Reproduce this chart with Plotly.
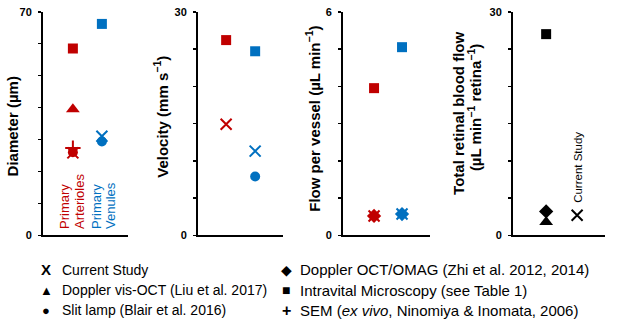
import plotly.graph_objects as go

W, H = 617, 328
FONT = "Liberation Sans, Arial, sans-serif"
RED = "#C00000"
BLUE = "#0070C0"
BLACK = "#000000"

# ---- data ----
methods = ["Current Study", "Doppler vis-OCT", "Slit lamp", "Doppler OCT/OMAG",
           "Intravital Microscopy", "SEM"]
symbols = ["x-thin-open", "triangle-up", "circle", "diamond", "square", "cross-thin-open"]
vessel_pos = [1, 2]  # Primary Arterioles, Primary Venules

diameter_arterioles = [25.8, 39.5, 26.0, None, 58.5, 27.3]
diameter_venules = [31.0, None, 29.4, None, 66.2, None]
velocity_arterioles = [14.9, None, None, None, 26.2, None]
velocity_venules = [11.3, None, 7.9, None, 24.7, None]
flow_arterioles = [0.52, None, None, 0.52, 3.95, None]
flow_venules = [0.57, None, None, 0.57, 5.05, None]
total_flow = [2.7, 1.8, None, 3.2, 27.0, None]
total_flow_pos = [2, 1, 1, 1, 1, 1]

legend_left = ["Current Study", "Doppler vis-OCT (Liu et al. 2017)", "Slit lamp (Blair et al. 2016)"]
legend_right = ["Doppler OCT/OMAG (Zhi et al. 2012, 2014)", "Intravital Microscopy (see Table 1)",
                "SEM (<i>ex vivo</i>, Ninomiya &amp; Inomata, 2006)"]

def px(x):
    return x / W

def py(y):
    return 1 - y / H

TOP, BOT = 6, 238
ydom = [py(BOT), py(TOP)]
panels = [
    dict(x0=43, x1=128, xr=[-0.03, 2.9], ymax=70, dt=10),
    dict(x0=198, x1=283, xr=[0.03, 2.96], ymax=30, dt=5),
    dict(x0=343, x1=430, xr=[-0.11, 3.0], ymax=6, dt=1),
    dict(x0=513, x1=605, xr=[-0.07, 2.9], ymax=30, dt=5),
]

fig = go.Figure()

def marker(sym, color):
    if sym in ("x-thin-open", "cross-thin-open"):
        return dict(symbol=sym, size=11, color=color, line=dict(color=color, width=2))
    size = {"triangle-up": 12, "circle": 10, "diamond": 11, "square": 10}[sym]
    return dict(symbol=sym, size=size, color=color, line=dict(width=0))

def add_vessel(i, art, ven):
    ax = "" if i == 1 else str(i)
    for k in range(len(methods)):
        for val, pos, col in ((art[k], vessel_pos[0], RED), (ven[k], vessel_pos[1], BLUE)):
            if val is None:
                continue
            fig.add_trace(go.Scatter(x=[pos], y=[val], mode="markers", name=methods[k],
                                     marker=marker(symbols[k], col), showlegend=False,
                                     xaxis="x" + ax, yaxis="y" + ax, cliponaxis=False))

add_vessel(1, diameter_arterioles, diameter_venules)
add_vessel(2, velocity_arterioles, velocity_venules)
add_vessel(3, flow_arterioles, flow_venules)
for k in range(len(methods)):
    if total_flow[k] is None:
        continue
    fig.add_trace(go.Scatter(x=[total_flow_pos[k]], y=[total_flow[k]], mode="markers",
                             name=methods[k], marker=marker(symbols[k], BLACK), showlegend=False,
                             xaxis="x4", yaxis="y4", cliponaxis=False))

layout = dict(width=W, height=H, margin=dict(l=0, r=0, t=0, b=0),
              paper_bgcolor="white", plot_bgcolor="white",
              font=dict(family=FONT, color="black"), showlegend=False)
for i, p in enumerate(panels, start=1):
    ax = "" if i == 1 else str(i)
    layout["xaxis" + ax] = dict(domain=[px(p["x0"]), px(p["x1"])], range=p["xr"],
                                showline=True, linecolor="black", linewidth=2,
                                showticklabels=False, ticks="", showgrid=False, zeroline=False,
                                anchor="y" + ax, fixedrange=True)
    layout["yaxis" + ax] = dict(domain=ydom, range=[0, p["ymax"]], anchor="x" + ax,
                                showline=True, linecolor="black", linewidth=2,
                                ticks="outside", ticklen=3, tickwidth=1.5, tickcolor="black",
                                tickvals=[0, p["ymax"]], ticktext=["0", str(p["ymax"])],
                                minor=dict(tickmode="linear", tick0=0, dtick=p["dt"], ticks="outside",
                                           ticklen=3, tickwidth=1.5, tickcolor="black", showgrid=False),
                                showgrid=False, zeroline=False,
                                tickfont=dict(family=FONT, size=11, color="black", weight="bold"),
                                ticklabelstandoff=4, ticklabeloverflow="allow", fixedrange=True)
fig.update_layout(**layout)

ann = []
def A(x, y, text, size=13, angle=0, xa="center", ya="middle", color="black", bold=False, align="center"):
    ann.append(dict(x=px(x), y=py(y), xref="paper", yref="paper", text=text, showarrow=False,
                    textangle=angle, xanchor=xa, yanchor=ya, align=align,
                    font=dict(family=FONT, size=size, color=color, weight="bold" if bold else "normal")))

# axis titles
A(12, 125, "Diameter (µm)", size=15, angle=-90, bold=True)
A(161, 115, "Velocity (mm s<sup>−1</sup>)", size=15, angle=-90, bold=True)
A(313, 117, "Flow per vessel (µL min<sup>−1</sup>)", size=15, angle=-90, bold=True)
A(459, 112, "Total retinal blood flow", size=15, angle=-90, bold=True)
A(474, 106, "(µL min<sup>−1</sup> retina<sup>−1</sup>)", size=15, angle=-90, bold=True)

# category labels
A(65, 234, "Primary", size=13, angle=-90, ya="bottom", color=RED)
A(80, 234, "Arterioles", size=13, angle=-90, ya="bottom", color=RED)
A(97, 234, "Primary", size=13, angle=-90, ya="bottom", color=BLUE)
A(111, 234, "Venules", size=13, angle=-90, ya="bottom", color=BLUE)
A(578, 168, "Current Study", size=11.5, angle=-90)

# legend
left_syms = ["<b>X</b>", "▲", "●"]
right_syms = ["◆", "■", "<b>+</b>"]
rows = [274, 295, 316]
for s, t, y in zip(left_syms, legend_left, rows):
    A(46, y, s, size=15 if "X" in s else 13)
    A(60, y, t, size=14, xa="left")
for s, t, y in zip(right_syms, legend_right, rows):
    A(286, y, s, size=16 if "+" in s else 14)
    A(298, y, t, size=15, xa="left")

fig.update_layout(annotations=ann)
fig.write_html("out.html", config={"displayModeBar": False, "staticPlot": True},
               post_script="document.body.style.margin='0';document.body.style.padding='0';")
